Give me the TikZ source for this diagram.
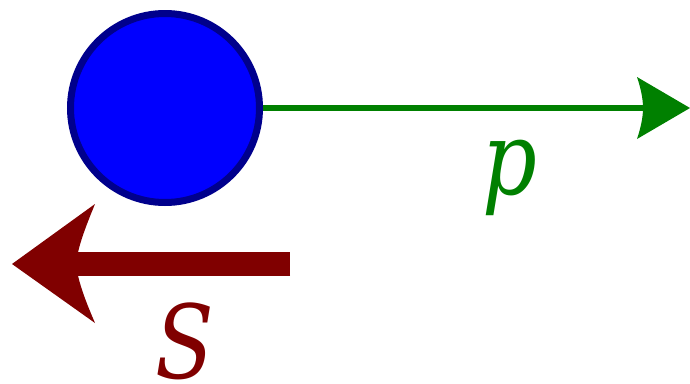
\documentclass[tikz,border=0pt]{standalone}
\usepackage{fontspec}
\usepackage{graphicx}
\newfontfamily\labfont{DejaVu Serif}
\definecolor{pgreen}{RGB}{0,128,0}
\definecolor{sred}{RGB}{128,0,0}
\definecolor{ballblue}{RGB}{0,0,255}
\definecolor{ballrim}{RGB}{0,0,140}
\newcommand{\labtext}[1]{\scalebox{0.84}[1]{\labfont\itshape\fontsize{102}{102}\selectfont #1}}
\begin{document}
\begin{tikzpicture}[x=1pt,y=-1pt,
  lab/.style={inner sep=0pt, anchor=base}]
\useasboundingbox (0,0) rectangle (690,383);
% ball
\node[circle, draw=ballrim, fill=ballblue, line width=7pt, minimum size=189pt, inner sep=0pt] (ball) at (165,108) {};
% momentum arrow
\coordinate (ptip) at (690,108);
\draw[pgreen, line width=6pt] (ball.east) -- (655,108);
\fill[pgreen] (ptip) -- (637,77) .. controls (641,89) and (643,99) .. (643,108) .. controls (643,117) and (641,127) .. (637,139) -- cycle;
\node[lab, text=pgreen] (p) at (510,194) {\labtext{p}};
% S arrow
\coordinate (sstart) at (290,264);
\coordinate (stip) at (12,264);
\draw[sred, line width=24pt] (sstart) -- (40,264);
\fill[sred] (stip) -- (95,204) .. controls (86,226) and (78,246) .. (76,264) .. controls (78,282) and (86,302) .. (95,323) -- cycle;
\node[lab, text=sred] (S) at (185,378) {\labtext{S}};
\end{tikzpicture}
\end{document}
